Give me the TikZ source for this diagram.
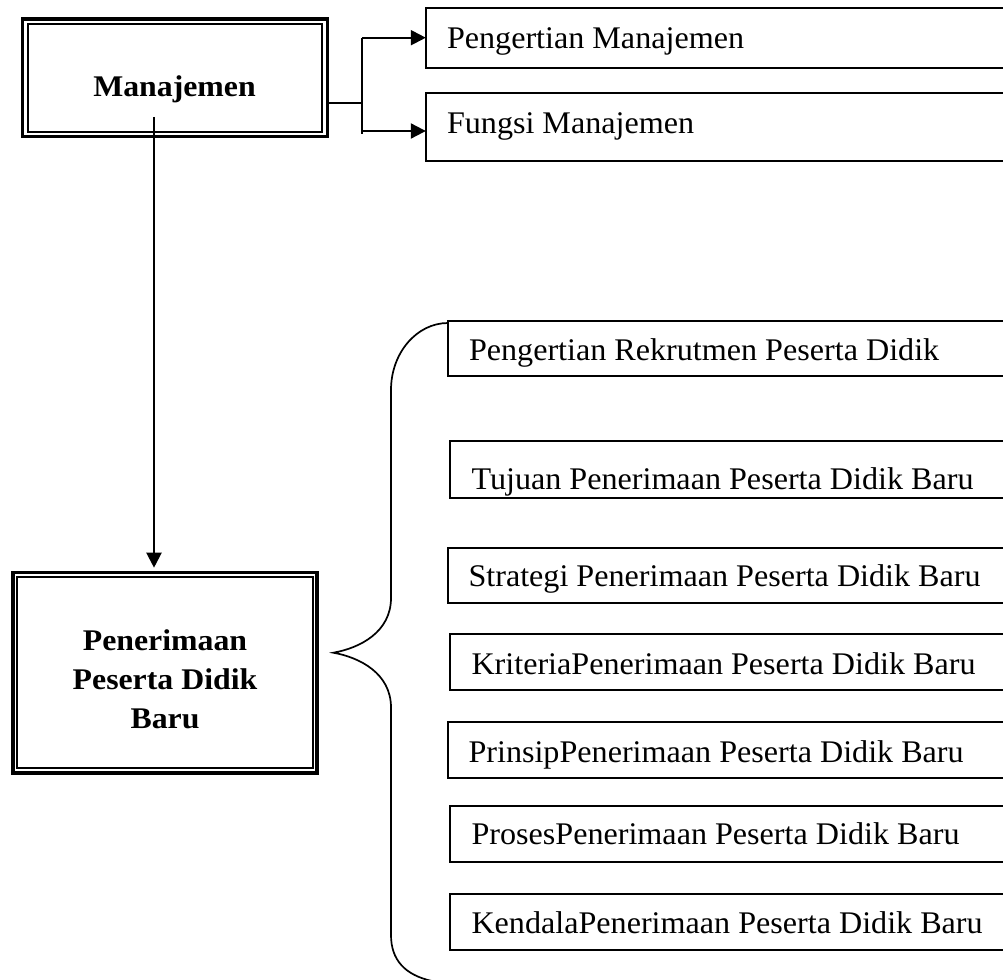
\documentclass[tikz,border=0pt]{standalone}
\usepackage{fontspec}
\setmainfont{Liberation Serif}
\newfontfamily\boxfont[FakeStretch=1.02]{Liberation Serif}
\newfontfamily\headfont[FakeStretch=1.06]{Liberation Serif}
\usetikzlibrary{arrows.meta,calc}
\begin{document}
\begin{tikzpicture}[x=1pt,y=-1pt,
  every node/.style={inner sep=0pt, outer sep=0pt},
  mainbox/.style={draw, rectangle, line width=3.2pt, outer sep=1.6pt},
  innerline/.style={line width=1.8pt},
  headtext/.style={font=\headfont\bfseries\fontsize{30}{39}\selectfont, align=center},
  topbox/.style={draw, rectangle, line width=2.1pt, anchor=north west, minimum width=700pt},
  lowbox/.style={draw, rectangle, line width=2pt, anchor=north west, minimum width=700pt},
  boxtext/.style={anchor=base west, font=\boxfont\fontsize{31.5}{36}\selectfont},
  conn/.style={line width=2.1pt},
  arr/.style={line width=2.1pt, -{Triangle[length=15pt,width=15pt]}},
  bracel/.style={line width=1.7pt}
]
\useasboundingbox (0,0) rectangle (1003,979);
\clip (0,0) rectangle (1003,979);

% Manajemen box
\node[mainbox, minimum width=305.2pt, minimum height=117.7pt] (m) at (174.9,77.85) {};
\draw[innerline] ($(m.center)+(-147.3,-54)$) rectangle ($(m.center)+(147.3,54)$);
\node[headtext, anchor=base] (mt) at (174.5,97) {Manajemen};

% Penerimaan box
\node[mainbox, minimum width=304pt, minimum height=200.7pt] (p) at (165,672.65) {};
\draw[innerline] ($(p.center)+(-147.9,-95.5)$) rectangle ($(p.center)+(147.9,95.5)$);
\node[headtext, anchor=north] (pt) at (165,629.5) {Penerimaan\\Peserta Didik\\Baru};

% top right boxes
\node[topbox, minimum height=59.4pt] (pm) at (425.8,8.3) {};
\node[boxtext] (pmt) at (447,48.3) {Pengertian Manajemen};
\node[topbox, minimum height=68.3pt] (fm) at (425.8,93) {};
\node[boxtext] (fmt) at (447,133) {Fungsi Manajemen};

% branch connector
\coordinate (j) at (362,103);
\coordinate (jt) at (362,37.7);
\coordinate (jb) at (362,134);
\coordinate (jf) at (362,131);
\draw[conn] (j -| m.east) -- (j);
\draw[conn] (jt) -- (jb);
\draw[arr] (jt) -- (jt -| pm.west);
\draw[arr] (jf) -- (jf -| fm.west);

% main vertical arrow
\coordinate (vs) at (154,117);
\draw[arr, shorten >=3pt] (vs) -- (vs |- p.north);

% lower boxes
\node[lowbox, minimum height=55pt] (b1) at (448,320.5) {};
\node[boxtext] (t1) at (469,360.5) {Pengertian Rekrutmen Peserta Didik};
\node[lowbox, minimum height=56.5pt] (b2) at (450,441) {};
\node[boxtext] (t2) at (471.5,489) {Tujuan Penerimaan Peserta Didik Baru};
\node[lowbox, minimum height=55.5pt] (b3) at (447.5,547.5) {};
\node[boxtext] (t3) at (468.5,586) {Strategi Penerimaan Peserta Didik Baru};
\node[lowbox, minimum height=56pt] (b4) at (450,633.5) {};
\node[boxtext] (t4) at (471.5,674) {KriteriaPenerimaan Peserta Didik Baru};
\node[lowbox, minimum height=56pt] (b5) at (447.5,722) {};
\node[boxtext] (t5) at (468.5,762) {PrinsipPenerimaan Peserta Didik Baru};
\node[lowbox, minimum height=56.5pt] (b6) at (450,805.5) {};
\node[boxtext] (t6) at (471.5,844) {ProsesPenerimaan Peserta Didik Baru};
\node[lowbox, minimum height=56.5pt] (b7) at (450,893.5) {};
\node[boxtext] (t7) at (471.5,933) {KendalaPenerimaan Peserta Didik Baru};

% brace
\coordinate (btop) at (448,323);
\coordinate (btip) at (333.3,652.7);
\draw[bracel] (btop) .. controls (416.6,323) and (391,353) .. (391,390)
  -- (391,598) .. controls (391,632) and (360,648) .. (btip)
  .. controls (360,657.5) and (391,673.5) .. (391,707.5)
  -- (391,935) .. controls (391,960) and (405,975) .. (432,981);
\end{tikzpicture}
\end{document}
